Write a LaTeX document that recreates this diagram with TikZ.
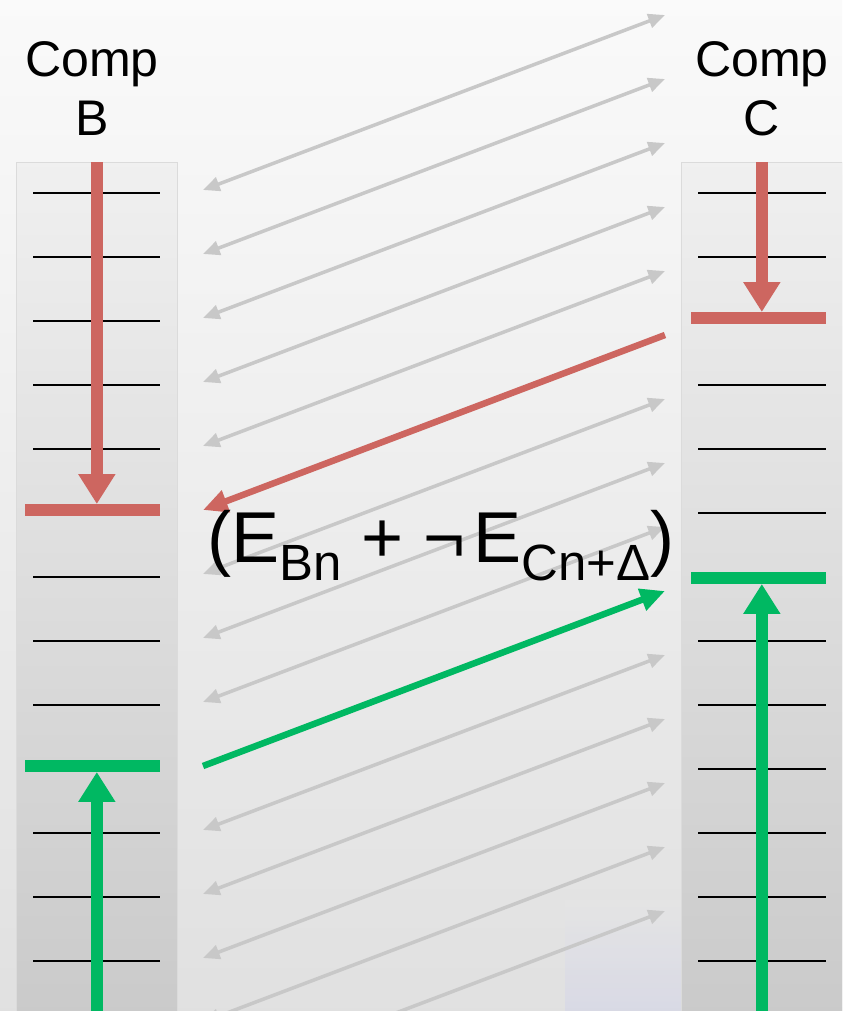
\documentclass[tikz,border=0pt]{standalone}
\usepackage{fontspec}
\setmainfont{Liberation Sans}
\usepackage{xcolor}
\usepackage{tikz}
\usetikzlibrary{arrows.meta, positioning, calc}
\definecolor{compred}{RGB}{205,102,96}
\definecolor{compgreen}{RGB}{0,184,98}
\definecolor{linkgrey}{RGB}{200,200,200}
\definecolor{gridblue}{RGB}{212,213,232}
\newcommand{\lowsub}[1]{\raisebox{-0.36cm}{\fontsize{29}{29}\selectfont #1}}
\tikzstyle{compcol} = [rectangle, draw=black!14, top color=black!6, bottom color=black!21, minimum width=3.22cm, minimum height=17.36cm, anchor=north west, inner sep=0pt]
\tikzstyle{comptitle} = [font=\fontsize{28.5}{33.5}\selectfont, align=center, inner sep=0pt, anchor=south]
\tikzstyle{rung} = [line width=1.2pt, black]
\tikzstyle{level} = [line width=6.8pt]
\tikzstyle{vstem} = [line width=6.8pt, -{Triangle[length=17pt,width=20pt]}, shorten >=0.12cm]
\tikzstyle{xlink} = [line width=2pt, linkgrey, {Triangle[length=9.5pt,width=8pt]}-{Triangle[length=9.5pt,width=8pt]}]
\tikzstyle{msg} = [line width=3.7pt, -{Triangle[length=14pt,width=12.5pt]}]

\begin{document}
\begin{tikzpicture}[x=0.02cm, y=-0.02cm]
\useasboundingbox (0,0) rectangle (842,1011);
\clip (0,0) rectangle (842,1011);
\fill[top color=white!98!black, middle color=white!96!black, bottom color=black!12] (0,0) rectangle (842,1011);
\shade[top color=black!10, bottom color=gridblue, opacity=0.6] (565,900) rectangle (681,1011);

% the two components
\node (colB) [compcol] at (16,162) {};
\node (colC) [compcol] at (681,162) {};
\node (titleB) [comptitle] at (92,136) {Comp\\B};
\node (titleC) [comptitle] at (762,136) {Comp\\C};

\foreach \ty in {193,257,321,385,449,577,641,705,833,897,961}
  \draw[rung] (33,\ty) -- (160,\ty);
\foreach \ty in {193,257,385,449,513,641,705,769,833,897,961}
  \draw[rung] (698,\ty) -- (826,\ty);

% links between B and C
\foreach \k in {0,...,14} {
  \coordinate (gl\k) at (203,{190+64*\k});
  \coordinate (gr\k) at (665,{15+64*\k});
}
\foreach \k in {0,1,2,3,4,6,7,8,10,11,12,13,14}
  \draw[xlink] (gl\k) -- (gr\k);

\draw[msg, compred] (gr5) -- (gl5);
\draw[msg, compgreen] (gl9) -- (gr9);

% levels reached
\coordinate (redB) at (96,510);
\coordinate (greenB) at (96,766);
\coordinate (redC) at (762,318);
\coordinate (greenC) at (762,578);
\draw[level, compred] (25,510) -- (160,510);
\draw[level, compgreen] (25,766) -- (160,766);
\draw[level, compred] (691,318) -- (826,318);
\draw[level, compgreen] (691,578) -- (826,578);

\draw[vstem, compred] (colB.north) -- (colB.north |- redB);
\draw[vstem, compgreen] (colB.south) -- (colB.south |- greenB);
\draw[vstem, compred] (colC.north) -- (colC.north |- redC);
\draw[vstem, compgreen] (colC.south) -- (colC.south |- greenC);

\node (eq) [anchor=base west, inner sep=0pt, font=\fontsize{41}{41}\selectfont] at (207,562) {(E\lowsub{Bn} + ¬\hspace{0.15cm}E\lowsub{Cn+Δ})};
\end{tikzpicture}
\end{document}
